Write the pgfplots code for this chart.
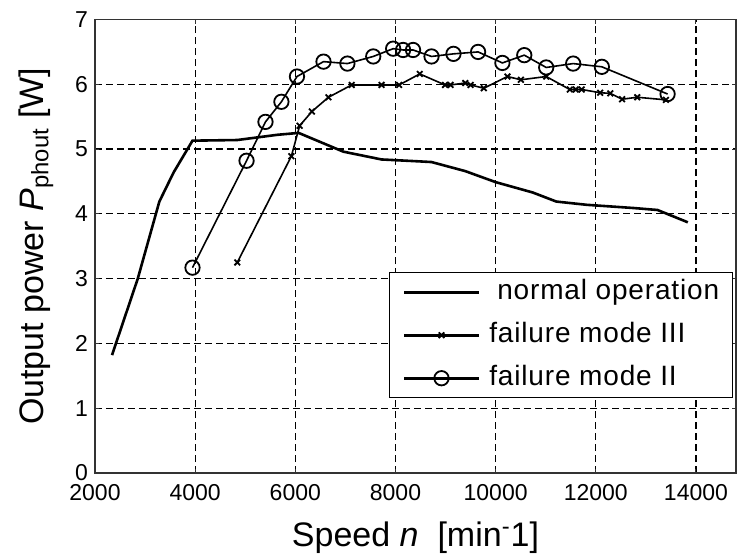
\documentclass[border=0pt]{standalone}
\usepackage{fontspec}
\setmainfont{Liberation Sans}
\usepackage{pgfplots}
\pgfplotsset{compat=1.18}
\begin{document}
\begin{tikzpicture}
\path[use as bounding box] (-47.5pt,-43pt) rectangle (322pt,236.5pt);
\begin{axis}[
  at={(0,0)}, anchor=south west,
  scale only axis, width=320.5pt, height=226.75pt,
  xmin=2000, xmax=14800, ymin=0, ymax=7,
  xtick={2000,4000,...,14000}, ytick={0,1,...,7},
  grid=major,
  major grid style={black, line width=0.6pt, dash pattern=on 3.5pt off 2pt},
  axis line style={black!80, line width=0.6pt},
  tick align=inside, major tick length=2pt,
  tick style={black!80, line width=0.5pt},
  ticklabel style={font=\fontsize{11.5}{13}\selectfont},
  /pgf/number format/assume math mode=true,
  /pgf/number format/1000 sep={},
  scaled x ticks=false,
  xticklabel style={yshift=-2pt},
  xlabel={Speed \textit{n}\ \ [min\textsuperscript{-}1]},
  xlabel style={at={(axis description cs:0.5,-0.163)}, anchor=base, font=\fontsize{17}{20}\selectfont},
  ylabel={Output power \textit{P}\textsubscript{phout} [W]},
  ylabel style={at={(axis description cs:-0.081,0.5)}, anchor=base, font=\fontsize{17}{20}\selectfont},
  legend cell align=left,
  legend style={draw=black, line width=0.6pt, fill=white,
    at={(0.995,0.443)}, anchor=north east,
    inner xsep=6.5pt, inner ysep=3pt,
    font=\fontsize{14}{17}\selectfont\addfontfeatures{LetterSpace=3},
    nodes={inner sep=0pt, text height=10.5pt, text depth=3pt},
    row sep=8pt,
    /tikz/every odd column/.append style={column sep=4.5pt}},
  legend image code/.code={%
    \draw[mark repeat=2,mark phase=2,#1,line width=1.3pt] plot coordinates {(0pt,0pt) (18.75pt,0pt) (37.5pt,0pt)};},
]
\addplot[black, line width=1.3pt, no marks] coordinates {
 (2340,1.82) (2854,3.0) (3285,4.19) (3570,4.64) (3947,5.13) (4841,5.14)
 (5636,5.22) (6066,5.25) (6960,4.96) (7722,4.84) (8483,4.81) (8720,4.80)
 (9394,4.66) (10000,4.49) (10741,4.33) (11212,4.19) (11818,4.14)
 (12761,4.09) (13232,4.06) (13838,3.87)
};
\addlegendentry{\hspace{4pt}normal operation}
\addplot[black, line width=0.8pt, mark=x, mark size=2pt, mark options={solid, line width=0.9pt}] coordinates {
 (4841,3.25) (5921,4.89) (6086,5.36) (6331,5.58) (6662,5.80) (7126,5.99)
 (7722,5.99) (8073,5.99) (8485,6.16) (8990,5.99) (9100,5.99) (9394,6.02) (9500,5.99)
 (9764,5.94) (10236,6.12) (10505,6.07) (11010,6.12) (11481,5.92) (11600,5.92)
 (11717,5.92) (12088,5.87) (12290,5.86) (12525,5.77) (12828,5.80) (13401,5.76)
};
\addlegendentry{failure mode III}
\addplot[black, line width=0.8pt, mark=o, mark size=3.6pt, mark options={solid, line width=0.9pt}] coordinates {
 (3947,3.17) (5026,4.82) (5404,5.42) (5722,5.73) (6033,6.12) (6563,6.35)
 (7040,6.32) (7556,6.43) (7954,6.55) (8152,6.53) (8351,6.53) (8720,6.43)
 (9158,6.47) (9650,6.50) (10135,6.33) (10572,6.45) (11010,6.26)
 (11549,6.32) (12121,6.27) (13434,5.85)
};
\addlegendentry{failure mode II}
\end{axis}
\end{tikzpicture}
\end{document}
